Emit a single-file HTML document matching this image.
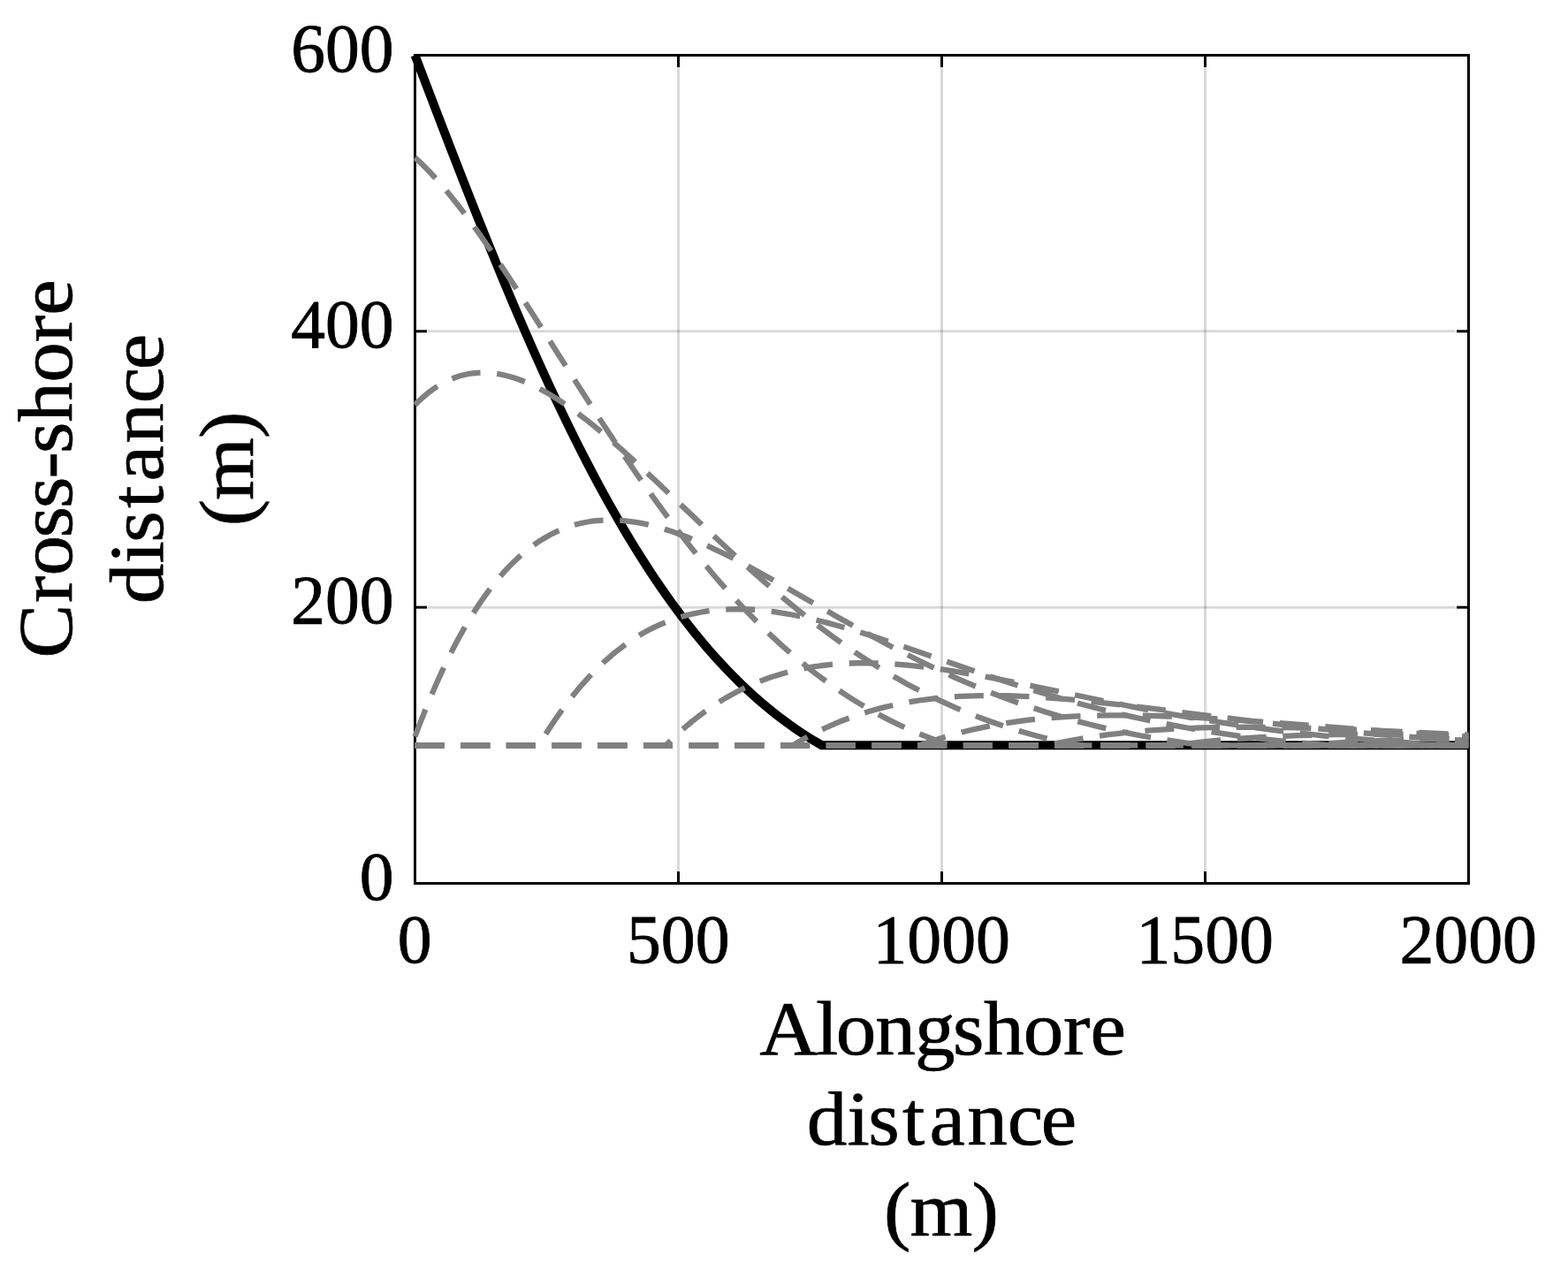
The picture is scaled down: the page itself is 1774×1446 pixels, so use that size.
<!DOCTYPE html>
<html lang="en"><head><meta charset="utf-8"><title>Shoreline evolution</title>
<style>html,body{margin:0;padding:0;background:#fff}body{width:1774px;height:1446px;overflow:hidden}svg{display:block}text{font-family:"Liberation Serif",serif;fill:#000}</style>
</head><body>
<svg width="1774" height="1446" viewBox="0 0 1774 1446">
<rect x="0" y="0" width="1774" height="1446" fill="#fff"/>
<g stroke="#000" stroke-opacity="0.15" stroke-width="3" fill="none"><line x1="767.5" y1="76.0" x2="767.5" y2="986.0"/><line x1="1065.5" y1="76.0" x2="1065.5" y2="986.0"/><line x1="1363.5" y1="76.0" x2="1363.5" y2="986.0"/><line x1="484.0" y1="687.17" x2="1647.0" y2="687.17"/><line x1="484.0" y1="374.83" x2="1647.0" y2="374.83"/></g>
<g stroke="#000" stroke-width="3" fill="none"><line x1="767.5" y1="999.5" x2="767.5" y2="986.0"/><line x1="767.5" y1="62.5" x2="767.5" y2="76.0"/><line x1="1065.5" y1="999.5" x2="1065.5" y2="986.0"/><line x1="1065.5" y1="62.5" x2="1065.5" y2="76.0"/><line x1="1363.5" y1="999.5" x2="1363.5" y2="986.0"/><line x1="1363.5" y1="62.5" x2="1363.5" y2="76.0"/><line x1="469.5" y1="687.17" x2="483.0" y2="687.17"/><line x1="1661.5" y1="687.17" x2="1648.0" y2="687.17"/><line x1="469.5" y1="374.83" x2="483.0" y2="374.83"/><line x1="1661.5" y1="374.83" x2="1648.0" y2="374.83"/><rect x="469.5" y="62.5" width="1192.0" height="937.0"/></g>
<path d="M469.5 62.5L493.64 125.72L510.33 169.1L525.82 208.91L540.13 245.12L554.13 279.94L567.84 313.34L581.25 345.28L594.06 375.07L600.62 390.01L607.18 404.75L613.73 419.27L620.29 433.58L626.84 447.67L633.1 460.9L639.36 473.93L645.62 486.75L651.88 499.35L658.13 511.73L664.39 523.9L670.65 535.85L676.91 547.58L683.17 559.08L689.42 570.36L695.38 580.89L701.94 592.24L708.2 602.85L714.46 613.23L721.01 623.86L727.27 633.78L733.83 643.93L740.08 653.4L746.64 663.07L752.9 672.08L759.45 681.28L766.01 690.24L772.57 698.96L778.82 707.07L785.38 715.33L791.94 723.36L798.49 731.16L805.05 738.73L811.6 746.07L818.16 753.19L825.01 760.41L831.57 767.08L838.42 773.83L845.28 780.35L852.13 786.65L858.99 792.72L865.84 798.57L872.69 804.2L879.55 809.62L886.4 814.84L893.55 820.06L900.71 825.06L907.86 829.85L914.12 833.87L920.67 837.92L929.91 843.33L930.21 843.33L1661.5 843.33" fill="none" stroke="#000" stroke-width="10" stroke-linejoin="round"/>
<g fill="none" stroke="#808080" stroke-width="6.3" stroke-dasharray="33 18.7" stroke-linejoin="round"><path d="M469.5 178.31L473.37 181.85L477.55 185.83L481.72 189.98L485.89 194.28L490.06 198.73L494.53 203.65L498.7 208.39L503.17 213.61L507.64 218.98L512.11 224.48L516.88 230.49L521.65 236.63L531.48 249.72L541.62 263.71L550.56 276.44L560.09 290.34L569.93 304.99L580.65 321.27L590.79 336.86L602.11 354.48L647.7 426.16L668.27 458.19L679.29 475.14L689.72 490.99L699.85 506.18L709.69 520.72L721.01 537.18L732.34 553.3L743.36 568.67L754.09 583.28L764.82 597.53L775.25 611.05L785.68 624.21L796.11 637L808.03 651.17L813.99 658.08L819.95 664.85L825.91 671.5L831.87 678.03L837.83 684.43L843.49 690.4L849.45 696.55L855.11 702.28L861.07 708.19L867.03 713.97L872.99 719.63L878.95 725.16L884.91 730.56L890.87 735.84L896.83 741L902.79 746.03L908.75 750.94L914.71 755.73L920.67 760.4L926.63 764.94L932.59 769.37L938.85 773.89L944.81 778.08L951.07 782.35L957.03 786.31L963.29 790.33L969.25 794.05L975.5 797.84L981.76 801.51L988.02 805.07L998.75 810.88L1009.48 816.37L1020.2 821.53L1031.23 826.51L1042.55 831.29L1053.88 835.74L1059.84 837.95L1066.1 840.18L1074.14 842.92L1075.33 843.31L1075.63 843.33L1661.5 843.33"/><path d="M469.5 458.14L473.37 454.27L477.25 450.65L481.12 447.27L485.29 443.89L489.17 440.99L493.34 438.12L497.21 435.68L501.39 433.29L505.56 431.14L509.73 429.23L513.9 427.54L518.07 426.08L522.25 424.84L526.72 423.74L531.19 422.88L535.66 422.25L540.13 421.85L544.6 421.65L549.07 421.67L553.83 421.91L558.3 422.35L563.07 423.01L567.84 423.89L572.61 424.97L577.38 426.24L582.44 427.8L587.51 429.56L592.57 431.51L597.64 433.65L603 436.11L608.37 438.77L613.73 441.6L617.61 443.76L621.78 446.18L629.82 451.12L638.47 456.79L647.11 462.82L656.05 469.4L665.29 476.53L674.82 484.19L684.95 492.64L693.89 500.32L703.43 508.73L713.26 517.58L723.99 527.41L734.12 536.83L745.45 547.48L791.64 591.37L812.5 611.01L823.82 621.53L834.55 631.37L844.98 640.81L854.81 649.58L866.44 659.76L878.06 669.73L889.08 678.98L900.11 688.02L910.84 696.59L921.57 704.94L932.29 713.06L942.72 720.74L954.94 729.44L967.16 737.83L979.38 745.9L991.3 753.46L1003.22 760.72L1015.44 767.84L1027.65 774.65L1039.87 781.14L1052.09 787.31L1064.31 793.17L1076.53 798.73L1089.04 804.12L1101.56 809.19L1114.07 813.97L1126.89 818.55L1139.7 822.84L1149.24 825.84L1159.07 828.78L1168.91 831.55L1179.04 834.24L1189.17 836.77L1199.6 839.2L1210.63 841.61L1219.27 843.33L1661.5 843.33"/><path d="M469.5 833.5L475.46 817.74L481.42 802.65L487.38 788.21L493.64 773.74L499.6 760.59L505.86 747.44L512.11 734.94L518.37 723.09L524.63 711.85L527.91 706.21L531.19 700.73L537.44 690.71L540.72 685.7L544 680.84L547.28 676.13L550.56 671.57L553.83 667.16L557.11 662.9L560.39 658.78L563.67 654.8L566.95 650.97L570.52 646.93L573.8 643.38L577.38 639.66L580.65 636.38L584.23 632.95L587.51 629.94L591.08 626.79L594.66 623.79L598.24 620.93L601.81 618.21L605.39 615.63L608.96 613.19L612.54 610.87L616.12 608.69L619.99 606.46L623.57 604.54L627.44 602.59L631.02 600.92L634.89 599.24L638.76 597.69L642.64 596.27L646.51 594.98L650.39 593.82L654.26 592.77L658.43 591.78L662.31 590.99L666.48 590.25L670.35 589.68L674.52 589.19L678.7 588.82L682.87 588.57L687.04 588.43L691.51 588.41L696.87 588.54L702.54 588.87L707.9 589.35L713.56 590.03L719.22 590.88L725.18 591.94L731.14 593.18L737.1 594.58L743.06 596.14L749.32 597.93L755.58 599.87L762.14 602.07L768.69 604.41L775.55 607.01L782.4 609.76L789.55 612.77L795.51 615.38L801.77 618.21L808.33 621.28L814.88 624.44L828.59 631.3L843.49 639.11L858.39 647.2L875.08 656.5L892.96 666.67L932 689.11L949.58 699.15L968.35 709.72L985.34 719.09L1005.01 729.67L1023.78 739.43L1041.96 748.54L1050.9 752.89L1059.54 757L1069.97 761.85L1080.4 766.56L1090.83 771.14L1100.96 775.46L1111.39 779.77L1121.52 783.83L1131.66 787.74L1141.79 791.53L1151.92 795.18L1162.05 798.7L1172.18 802.09L1182.61 805.44L1192.75 808.56L1203.18 811.63L1213.61 814.58L1224.04 817.38L1232.38 819.54L1240.72 821.61L1257.41 825.5L1274.4 829.15L1291.38 832.47L1308.97 835.6L1326.85 838.47L1345.02 841.07L1354.86 842.36L1362.9 843.33L1661.5 843.33"/><path d="M469.5 843.33L609.56 843.33L616.12 832.65L621.78 823.78L627.74 814.83L634 805.86L640.25 797.3L646.51 789.16L652.77 781.41L659.03 774.06L665.29 767.09L671.84 760.18L678.4 753.67L684.95 747.54L691.51 741.79L698.36 736.16L704.92 731.14L711.77 726.25L718.63 721.73L725.48 717.55L732.63 713.55L739.79 709.91L746.94 706.6L750.51 705.08L754.39 703.51L761.84 700.76L769.29 698.34L773.16 697.21L777.04 696.16L784.78 694.31L792.53 692.76L800.58 691.47L808.62 690.49L816.97 689.78L825.31 689.36L833.95 689.22L839.62 689.28L845.28 689.46L851.24 689.77L857.2 690.2L863.16 690.74L869.12 691.39L875.38 692.18L881.63 693.08L887.89 694.09L894.45 695.24L901 696.5L907.86 697.91L914.71 699.42L921.86 701.1L929.31 702.94L936.76 704.88L948.98 708.23L962.09 712.05L976.1 716.35L991 721.11L1005.3 725.84L1021.4 731.29L1089.94 755.03L1106.62 760.73L1122.12 765.94L1139.7 771.72L1156.39 777.06L1172.48 782.06L1188.28 786.81L1206.45 792.06L1224.63 797.07L1242.51 801.76L1260.39 806.2L1278.27 810.4L1295.85 814.28L1313.44 817.92L1331.32 821.37L1341.75 823.27L1352.18 825.09L1373.04 828.48L1394.19 831.6L1415.65 834.45L1437.7 837.06L1460.05 839.4L1483 841.49L1506.24 843.32L1661.5 843.33"/><path d="M469.5 843.33L753.2 843.33L753.49 843.11L760.35 836.35L766.01 831.01L771.97 825.62L777.93 820.47L783.89 815.55L790.15 810.62L796.41 805.94L802.66 801.49L808.92 797.27L815.48 793.09L822.03 789.16L828.59 785.45L835.15 781.97L842 778.57L848.56 775.53L855.41 772.57L862.26 769.84L869.12 767.31L876.27 764.89L883.42 762.69L890.57 760.69L898.02 758.82L905.47 757.16L912.92 755.69L920.67 754.37L928.42 753.25L936.17 752.31L944.21 751.53L952.26 750.94L960.6 750.51L968.95 750.25L977.59 750.17L989.21 750.32L1001.43 750.79L1013.95 751.56L1027.06 752.66L1040.47 754.07L1054.47 755.81L1069.37 757.91L1084.87 760.35L1097.39 762.48L1110.5 764.83L1124.5 767.47L1139.4 770.38L1168.61 776.33L1229.1 789.01L1256.22 794.6L1284.83 800.32L1311.05 805.34L1325.65 808.03L1340.26 810.63L1354.56 813.09L1368.86 815.46L1382.87 817.69L1396.88 819.82L1410.88 821.87L1424.89 823.82L1439.49 825.76L1454.09 827.6L1468.69 829.34L1483.3 830.97L1498.2 832.54L1513.1 834.01L1528 835.38L1543.19 836.69L1560.18 838.03L1577.17 839.26L1594.45 840.39L1612.03 841.43L1631.1 842.44L1650.18 843.33L1661.5 843.33"/><path d="M469.5 843.33L896.83 843.33L897.13 843.23L903.39 839.49L909.65 835.91L915.31 832.81L921.27 829.69L927.23 826.7L933.49 823.72L939.45 821.01L945.7 818.31L951.96 815.74L958.52 813.2L964.78 810.91L971.33 808.65L977.89 806.53L984.44 804.54L991 802.68L997.85 800.87L1004.71 799.19L1011.56 797.64L1018.42 796.22L1025.57 794.86L1032.72 793.62L1039.87 792.51L1047.02 791.51L1054.47 790.59L1061.92 789.79L1069.67 789.07L1077.42 788.47L1085.17 787.98L1093.21 787.59L1101.26 787.3L1109.6 787.11L1117.95 787.02L1128.97 787.05L1140.6 787.26L1152.52 787.64L1164.73 788.19L1177.25 788.91L1190.36 789.82L1204.07 790.91L1218.37 792.18L1230.89 793.4L1244.3 794.8L1273.5 798.09L1305.39 801.96L1381.38 811.57L1417.74 816.05L1456.77 820.6L1475.25 822.63L1493.43 824.55L1514.59 826.68L1535.45 828.66L1556.31 830.51L1577.17 832.24L1598.03 833.84L1618.89 835.32L1640.04 836.7L1661.5 837.97"/><path d="M469.5 843.33L1040.47 843.33L1040.77 843.29L1047.02 841.02L1053.58 838.76L1064.61 835.19L1076.23 831.74L1088.15 828.52L1100.37 825.54L1112.88 822.8L1125.7 820.32L1138.81 818.09L1152.22 816.12L1165.63 814.43L1179.63 812.97L1193.94 811.76L1208.54 810.79L1223.74 810.06L1239.23 809.58L1255.33 809.32L1267.84 809.29L1280.95 809.39L1294.36 809.62L1308.07 809.99L1322.38 810.49L1337.57 811.14L1353.37 811.93L1370.06 812.88L1396.88 814.58L1427.87 816.75L1536.04 824.96L1580.15 828.18L1621.87 831.01L1661.5 833.46"/><path d="M469.5 843.33L1184.1 843.33L1184.4 843.32L1197.22 840.58L1207.65 838.53L1218.97 836.49L1230.29 834.62L1242.21 832.84L1254.13 831.23L1266.35 829.76L1278.87 828.43L1291.68 827.24L1304.79 826.19L1317.91 825.3L1331.61 824.53L1345.62 823.9L1359.92 823.42L1374.82 823.06L1390.02 822.84L1413.56 822.76L1438.6 822.96L1465.12 823.46L1494.02 824.25L1523.53 825.28L1557.2 826.64L1593.85 828.26L1661.5 831.39"/><path d="M469.5 843.33L1327.74 843.33L1345.62 841.1L1361.41 839.32L1378.1 837.68L1395.39 836.21L1413.27 834.91L1431.44 833.81L1450.22 832.89L1469.89 832.14L1489.85 831.58L1510.41 831.18L1532.17 830.95L1554.82 830.89L1578.66 830.99L1603.99 831.25L1631.4 831.68L1661.5 832.29"/><path d="M469.5 843.33L1471.67 843.33L1492.83 841.73L1514.29 840.35L1536.64 839.14L1559.58 838.14L1583.42 837.32L1608.16 836.68L1634.08 836.22L1661.5 835.93"/><path d="M469.5 843.33L1615.31 843.33L1638.26 842.29L1661.5 841.4"/></g>
<g font-size="78" stroke="#000" stroke-width="0.8" stroke-linejoin="round">
<text transform="translate(445.60 1017.70) scale(0.9950 1.0150)" text-anchor="end">0</text>
<text transform="translate(445.60 705.37) scale(0.9950 1.0150)" text-anchor="end">200</text>
<text transform="translate(445.60 393.03) scale(0.9950 1.0150)" text-anchor="end">400</text>
<text transform="translate(445.60 80.70) scale(0.9950 1.0150)" text-anchor="end">600</text>
<text transform="translate(469.20 1088.70) scale(0.9970 1.0150)" text-anchor="middle">0</text>
<text transform="translate(767.20 1088.70) scale(0.9970 1.0150)" text-anchor="middle">500</text>
<text transform="translate(1065.20 1088.70) scale(0.9970 1.0150)" text-anchor="middle">1000</text>
<text transform="translate(1363.20 1088.70) scale(0.9970 1.0150)" text-anchor="middle">1500</text>
<text transform="translate(1661.20 1088.70) scale(0.9970 1.0150)" text-anchor="middle">2000</text>
</g>
<g font-size="86" stroke="#000" stroke-width="0.7" stroke-linejoin="round">
<text transform="translate(860.32 1192.9) scale(1.06 1)" x="-1.11 59.02 80.53 122.69 164.84 205.3 238.45 280.6 323.39 351.99">Alongshore</text>
<text transform="translate(911.69 1295.4) scale(1.06 1)" x="0.99 44.26 66.67 103.11 131.93 172.23 215.08 250.99">distance</text>
<text transform="translate(999.47 1398) scale(1.06 1)" x="0.6 28.32 94.31">(m)</text>
<text transform="translate(81.1 744.94) rotate(-90) scale(1.06 1)" x="0.31 59.4 88.04 128.7 160.34 191.94 218.73 252.1 294.5 337.5 366.29">Cross-shore</text>
<text transform="translate(183.8 684.31) rotate(-90) scale(1.06 1)" x="0.99 44.26 66.67 103.11 131.93 172.23 215.08 250.99">distance</text>
<text transform="translate(286.2 595.93) rotate(-90) scale(1.06 1)" x="0.6 28.32 94.31">(m)</text>
</g>
</svg></body></html>
